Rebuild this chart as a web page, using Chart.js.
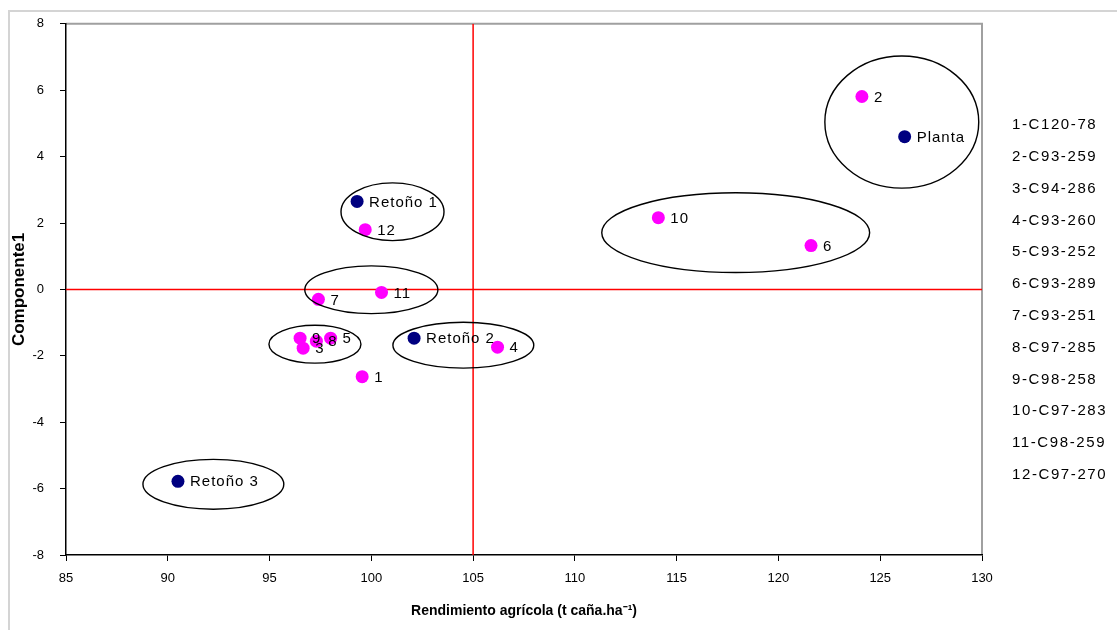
<!DOCTYPE html>
<html>
<head>
    <meta charset="utf-8">
    <title>Rendimiento agrícola vs Componente 1</title>
    <style>
        body {margin: 0; background: #fff;}
        #chart {display: block;}
    </style>
    <script src="https://cdn.jsdelivr.net/npm/chart.js"></script>
</head>
<body>
    <canvas id="chart" width="1117" height="630"></canvas>

<script>
    // cycle stages (dark blue points)
    var stageNames = ['Planta', 'Retoño 1', 'Retoño 2', 'Retoño 3'];
    var stageX = [126.2, 99.3, 102.1, 90.5];
    var stageY = [4.6, 2.65, -1.47, -5.78];

    // cultivars (magenta points)
    var cultivarIds = ['1', '2', '3', '4', '5', '6', '7', '8', '9', '10', '11', '12'];
    var cultivarNames = ['1-C120-78', '2-C93-259', '3-C94-286', '4-C93-260', '5-C93-252', '6-C93-289',
                         '7-C93-251', '8-C97-285', '9-C98-258', '10-C97-283', '11-C98-259', '12-C97-270'];
    var cultivarX = [99.55, 124.1, 96.65, 106.2, 98.0, 121.6, 97.4, 97.3, 96.5, 114.1, 100.5, 99.7];
    var cultivarY = [-2.63, 5.81, -1.77, -1.74, -1.47, 1.32, -0.3, -1.56, -1.47, 2.16, -0.09, 1.8];

    // axis ranges and ticks
    var xTicks = [85, 90, 95, 100, 105, 110, 115, 120, 125, 130];
    var yTicks = [-8, -6, -4, -2, 0, 2, 4, 6, 8];

    // mean lines
    var meanX = 105;
    var meanY = 0;

    // group outlines: centre and half axes in data units
    var groupCx = [126.06, 117.9, 101.04, 100.0, 97.23, 104.52, 92.24];
    var groupCy = [5.04, 1.71, 2.34, -0.01, -1.65, -1.68, -5.87];
    var groupRx = [3.78, 6.58, 2.53, 3.27, 2.26, 3.46, 3.46];
    var groupRy = [1.99, 1.2, 0.87, 0.72, 0.57, 0.69, 0.75];

    var toPoints = function(xs, ys) {
        return xs.map(function(x, i) { return {x: x, y: ys[i]}; });
    };

    var labelFont = '15px "Liberation Sans", Arial, sans-serif';

    var decorations = {
        id: 'decorations',
        beforeDraw: function(chart) {
            var ctx = chart.ctx;
            var a = chart.chartArea;
            ctx.save();
            // outer chart frame
            ctx.strokeStyle = '#d4d4d4';
            ctx.lineWidth = 2;
            ctx.beginPath();
            ctx.moveTo(9, 630);
            ctx.lineTo(9, 11);
            ctx.lineTo(1117, 11);
            ctx.stroke();
            // plot area frame (top and right)
            ctx.strokeStyle = '#a0a0a0';
            ctx.beginPath();
            ctx.moveTo(a.left, a.top);
            ctx.lineTo(a.right, a.top);
            ctx.lineTo(a.right, a.bottom);
            ctx.stroke();
            ctx.restore();
        },
        afterDatasetsDraw: function(chart) {
            var ctx = chart.ctx;
            var xs = chart.scales.x, ys = chart.scales.y;
            ctx.save();
            // group ellipses
            ctx.strokeStyle = '#000';
            ctx.lineWidth = 1.4;
            groupCx.forEach(function(cx, i) {
                var px = xs.getPixelForValue(cx);
                var py = ys.getPixelForValue(groupCy[i]);
                var rx = xs.getPixelForValue(cx + groupRx[i]) - px;
                var ry = py - ys.getPixelForValue(groupCy[i] + groupRy[i]);
                ctx.beginPath();
                ctx.ellipse(px, py, rx, ry, 0, 0, Math.PI * 2);
                ctx.stroke();
            });
            // point labels
            ctx.fillStyle = '#000';
            ctx.font = labelFont;
            ctx.textBaseline = 'middle';
            ctx.textAlign = 'left';
            ctx.letterSpacing = '1px';
            cultivarIds.forEach(function(id, i) {
                ctx.fillText(id, xs.getPixelForValue(cultivarX[i]) + 12, ys.getPixelForValue(cultivarY[i]) + 1);
            });
            stageNames.forEach(function(name, i) {
                ctx.fillText(name, xs.getPixelForValue(stageX[i]) + 12, ys.getPixelForValue(stageY[i]) + 1);
            });
            // cultivar key on the right
            ctx.letterSpacing = '1.6px';
            cultivarNames.forEach(function(name, i) {
                ctx.fillText(name, 1012, 125 + i * 31.8);
            });
            ctx.restore();
        }
    };

    var ctx = document.getElementById('chart').getContext('2d');
    var chart = new Chart(ctx, {
        type: 'scatter',
        data: {
            datasets: [
                {
                    label: 'Ciclos',
                    data: toPoints(stageX, stageY),
                    backgroundColor: '#000080',
                    borderColor: '#000080',
                    pointRadius: 6.5,
                    borderWidth: 0,
                    order: 1
                },
                {
                    label: 'Cultivares',
                    data: toPoints(cultivarX, cultivarY),
                    backgroundColor: '#ff00ff',
                    borderColor: '#ff00ff',
                    pointRadius: 6.5,
                    borderWidth: 0,
                    order: 1
                },
                {
                    type: 'line',
                    label: 'meanX',
                    data: [{x: meanX, y: yTicks[0]}, {x: meanX, y: yTicks[yTicks.length - 1]}],
                    borderColor: '#ff0000',
                    borderWidth: 1.5,
                    pointRadius: 0,
                    order: 2
                },
                {
                    type: 'line',
                    label: 'meanY',
                    data: [{x: xTicks[0], y: meanY}, {x: xTicks[xTicks.length - 1], y: meanY}],
                    borderColor: '#ff0000',
                    borderWidth: 1.5,
                    pointRadius: 0,
                    order: 2
                }
            ]
        },
        options: {
            responsive: false,
            animation: false,
            layout: {padding: {left: 0, top: 21, right: 135, bottom: 0}},
            plugins: {
                legend: {display: false},
                tooltip: {enabled: false}
            },
            scales: {
                x: {
                    type: 'linear',
                    min: xTicks[0],
                    max: xTicks[xTicks.length - 1],
                    afterBuildTicks: function(scale) {
                        scale.ticks = xTicks.map(function(v) { return {value: v}; });
                    },
                    afterFit: function(scale) { scale.height = 75; },
                    grid: {display: true, drawOnChartArea: false, tickLength: 6, color: '#000'},
                    border: {display: true, color: '#000', width: 1.5},
                    ticks: {
                        color: '#000',
                        padding: 10,
                        maxRotation: 0,
                        font: {family: '"Liberation Sans", Arial', size: 13}
                    },
                    title: {
                        display: true,
                        text: 'Rendimiento agrícola (t caña.ha⁻¹)',
                        color: '#000',
                        padding: {top: 0, bottom: 10},
                        font: {family: '"Liberation Sans", Arial', size: 14, weight: 'bold'}
                    }
                },
                y: {
                    type: 'linear',
                    min: yTicks[0],
                    max: yTicks[yTicks.length - 1],
                    afterBuildTicks: function(scale) {
                        scale.ticks = yTicks.map(function(v) { return {value: v}; });
                    },
                    afterFit: function(scale) { scale.width = 66; },
                    grid: {display: true, drawOnChartArea: false, tickLength: 6, color: '#000'},
                    border: {display: true, color: '#000', width: 1.5},
                    ticks: {
                        color: '#000',
                        padding: 16,
                        font: {family: '"Liberation Sans", Arial', size: 13}
                    },
                    title: {
                        display: true,
                        text: 'Componente1',
                        color: '#000',
                        padding: {top: 9, bottom: 0},
                        font: {family: '"Liberation Sans", Arial', size: 17, weight: 'bold'}
                    }
                }
            }
        },
        plugins: [decorations]
    });
</script>
</body>
</html>
